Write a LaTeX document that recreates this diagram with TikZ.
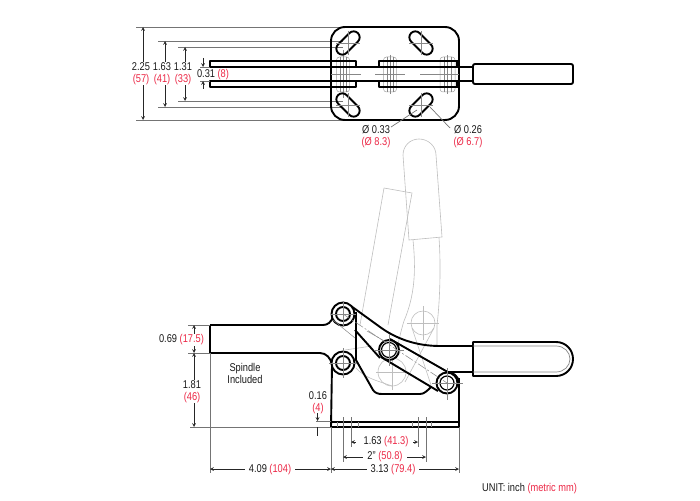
\documentclass[tikz,border=0pt]{standalone}
\usepackage{fontspec}
\setmainfont[FakeStretch=0.82]{Liberation Sans}
\usetikzlibrary{positioning}
\definecolor{clampred}{RGB}{236,40,70}
\definecolor{ghostgray}{RGB}{190,190,190}
\definecolor{dimgray}{RGB}{70,70,70}
\newcommand{\metric}[1]{\textcolor{clampred}{#1}}
\tikzset{
    bold/.style={line width=1.9pt, black, line join=round},
    thin line/.style={line width=0.5pt, dimgray!65},
    ghost/.style={line width=0.6pt, ghostgray},
    extline/.style={line width=0.7pt, dimgray!75},
    dimline/.style={line width=0.7pt, black!85, >=stealth},
    dimtext/.style={font=\fontsize{11.3}{11.5}\selectfont, align=center, fill=white, inner sep=1pt, text=black!90},
    slot/.style={draw=black, line width=1.9pt, rounded corners=6pt, minimum width=28pt, minimum height=12pt, inner sep=0pt},
    stud/.style={draw=dimgray!50, line width=0.5pt, rounded corners=3pt, minimum width=13pt, minimum height=35pt, inner sep=0pt},
    pin/.style={circle, draw=black, line width=1.9pt, fill=white, inner sep=0pt},
    ghostpin/.style={circle, draw=ghostgray, line width=0.6pt, inner sep=0pt}
}
\begin{document}
\begin{tikzpicture}[x=1pt, y=-1pt]
        \useasboundingbox (0, 0) rectangle (700, 500);

        \node[stud] (studL) at (343, 74.5) {};
        \node[stud] (studM) at (390, 74.5) {};
        \node[stud, minimum width=15pt] (studR) at (447.5, 74.5) {};

        \draw[extline] (136, 27) -- (345, 27);
        \draw[extline] (136, 120) -- (345, 120);
        \draw[extline] (158, 41) -- (343, 41);
        \draw[extline] (158, 107) -- (343, 107);
        \draw[extline] (178, 47) -- (343, 47);
        \draw[extline] (178, 101) -- (343, 101);

        \draw[bold, rounded corners=14pt] (331, 27) rectangle (459, 120);

        \draw[thin line] (343, 50) -- (343, 98);
        \draw[thin line] (340, 57) -- (340, 92);
        \draw[thin line] (346, 57) -- (346, 92);
        \draw[thin line] (390, 55) -- (390, 94);
        \draw[thin line] (387, 57) -- (387, 92);
        \draw[thin line] (393, 57) -- (393, 92);
        \draw[thin line] (447, 55) -- (447, 94);
        \draw[thin line] (444, 57) -- (444, 92);
        \draw[thin line] (451, 57) -- (451, 92);
        \draw[thin line] (331, 74) -- (361, 74);
        \draw[thin line] (375, 74) -- (405, 74);
        \draw[thin line] (420, 74) -- (459, 74);

        \node[slot, rotate=45] (slotTL) at (348, 43) {};
        \node[slot, rotate=-45] (slotTR) at (421, 43) {};
        \node[slot, rotate=-45] (slotBL) at (348, 105) {};
        \node[slot, rotate=45] (slotBR) at (421, 105) {};

        \draw[thin line] (336, 43) -- (360, 43);
        \draw[thin line] (348, 31) -- (348, 55);
        \draw[thin line] (409, 43) -- (433, 43);
        \draw[thin line] (421, 31) -- (421, 55);
        \draw[thin line] (336, 105) -- (360, 105);
        \draw[thin line] (348, 93) -- (348, 117);
        \draw[thin line] (409, 105) -- (433, 105);
        \draw[thin line] (421, 93) -- (421, 117);

        \draw[bold] (210, 61) rectangle (356, 67);
        \draw[bold] (210, 81) rectangle (356, 87);
        \draw[bold] (458, 67) -- (379, 67) -- (379, 61) -- (458, 61);
        \draw[bold] (458, 81) -- (379, 81) -- (379, 87) -- (458, 87);
        \draw[bold] (356, 67) -- (379, 67);
        \draw[bold] (356, 81) -- (379, 81);
        \draw[bold, line width=2.8pt] (457.5, 61) -- (457.5, 67);
        \draw[bold, line width=2.8pt] (457.5, 81) -- (457.5, 87);
        \draw[bold] (459, 67) -- (473, 67);
        \draw[bold] (459, 81) -- (473, 81);
        \draw[bold, rounded corners=2pt] (473, 64) rectangle (573, 84);

        \draw[extline] (200, 67) -- (210, 67);
        \draw[extline] (200, 81) -- (210, 81);

        \draw[dimline, <->] (143, 27) -- (143, 120);
        \draw[dimline, <->] (165, 41) -- (165, 107);
        \draw[dimline, <->] (185, 47) -- (185, 101);
        \draw[dimline, ->] (203, 58) -- (203, 67);
        \draw[dimline, ->] (203, 89) -- (203, 81);

        \node[dimtext] (lblWidth) at (141, 73.5) {2.25\\\metric{(57)}};
        \node[dimtext] (lblSlotOut) at (162, 73.5) {1.63\\\metric{(41)}};
        \node[dimtext] (lblSlotIn) at (183, 73.5) {1.31\\\metric{(33)}};
        \node[dimtext, fill=none] (lblGap) at (213, 74.5) {0.31 \metric{(8)}};

        \node[dimtext] (lblDiaA) at (376, 136.5) {Ø 0.33\\\metric{(Ø 8.3)}};
        \node[dimtext] (lblDiaB) at (468, 136.5) {Ø 0.26\\\metric{(Ø 6.7)}};
        \coordinate (leadA) at (391, 127);
        \coordinate (leadB) at (450, 128);
        \coordinate (holeA) at (417, 110);
        \coordinate (holeB) at (430, 107);
        \draw[extline] (leadA) -- (holeA);
        \draw[extline] (leadB) -- (holeB);

        \draw[ghost] (403, 155) .. controls (403, 146) and (410, 139) .. (419, 139) .. controls (428, 139) and (436, 146) .. (436, 155) -- (442, 237) -- (409, 240) -- cycle;
        \draw[ghost] (384, 188) -- (412, 193) -- (388, 325);
        \draw[ghost] (384, 188) -- (360, 325);
        \draw[ghost] (413, 240) .. controls (416, 270) and (415, 295) .. (404, 321) .. controls (401, 330) and (398, 345) .. (396, 352);
        \draw[ghost] (439, 238) .. controls (441, 265) and (440, 300) .. (437, 325) -- (437, 345);

        \node[ghostpin, minimum size=24pt] (ghostA) at (423, 323) {};
        \node[ghostpin, minimum size=28pt] (ghostB) at (392, 372) {};
        \draw[ghost] (423, 306) -- (423, 340);
        \draw[ghost] (407, 323) -- (439, 323);
        \draw[ghost] (392, 355) -- (392, 390);
        \draw[ghost] (376, 372) -- (408, 372);
        \draw[ghost] (412, 328) -- (431, 385);
        \draw[ghost] (434, 328) -- (405, 382);
        \draw[ghost] (356, 368) .. controls (365, 378) and (375, 380) .. (392, 386);
        \draw[ghost] (345, 350) -- (372, 346);

        \draw[bold, fill=white] (473, 342) -- (556, 342) .. controls (566, 342) and (573, 350) .. (573, 359) .. controls (573, 368) and (566, 376) .. (556, 376) -- (473, 376) -- cycle;
        \draw[thin line, line width=0.7pt] (473, 346) -- (556, 346) .. controls (564, 346) and (570, 352) .. (570, 359) .. controls (570, 366) and (564, 372) .. (556, 372) -- (473, 372);

        \draw[bold] (210, 325) -- (323, 325) .. controls (328, 325) and (331, 322) .. (333, 317);
        \draw[bold] (210, 325) -- (210, 353) -- (320, 353) .. controls (326, 353) and (331, 358) .. (332, 365) -- (331, 427) -- (459, 427) -- (459, 378);
        \draw[bold] (331, 422) -- (459, 422);
        \draw[bold] (356, 312) -- (356, 360) -- (373, 390) .. controls (375, 393) and (378, 394) .. (382, 394) -- (420, 394) .. controls (424, 394) and (427, 391) .. (431, 387);
        \draw[bold] (351, 306) -- (380, 327) .. controls (395, 338) and (415, 346) .. (440, 346) -- (473, 346);
        \draw[bold] (447, 372) -- (473, 372);
        \draw[bold] (447, 372) .. controls (453, 372) and (458, 376) .. (459, 382);
        \draw[bold] (355, 330) -- (380, 358);
        \draw[bold] (390, 339) -- (453, 375);
        \draw[bold] (381, 357) -- (438, 391);

        \node[pin, minimum size=23pt] (pivotTopOut) at (343, 314) {};
        \node[pin, minimum size=23pt] (pivotLowOut) at (343, 363) {};
        \node[pin, minimum size=20pt] (pivotMidOut) at (389, 350) {};
        \node[pin, minimum size=21pt] (pivotEndOut) at (447, 383) {};
        \node[pin, minimum size=14pt] (pivotTop) at (343, 314) {};
        \node[pin, minimum size=14pt] (pivotLow) at (343, 363) {};
        \node[pin, line width=1.2pt, minimum size=15pt] (pivotMid) at (389, 350) {};
        \node[pin, line width=1.2pt, minimum size=14pt] (pivotEnd) at (447, 383) {};

        \draw[thin line, dash pattern=on 9pt off 2pt on 2pt off 2pt] (pivotTop.center) -- (pivotEnd.center);
        \draw[thin line] (333, 320) -- (355, 338);
        \draw[thin line] (367, 331) -- (386, 342);
        \draw[thin line] (343, 301) -- (343, 327);
        \draw[thin line] (331, 314) -- (356, 314);
        \draw[thin line] (343, 348) -- (343, 378);
        \draw[thin line] (329, 363) -- (357, 363);
        \draw[thin line] (389, 334) -- (389, 366);
        \draw[thin line] (374, 350) -- (404, 350);
        \draw[thin line] (447, 368) -- (447, 400);
        \draw[thin line] (432, 383) -- (463, 383);

        \draw[thin line] (337, 422) -- (337, 427);
        \draw[thin line] (358, 422) -- (358, 427);
        \draw[thin line] (412, 422) -- (412, 427);
        \draw[thin line] (431, 422) -- (431, 427);
        \draw[extline] (343, 417) -- (343, 462);
        \draw[extline] (351, 417) -- (351, 447);
        \draw[extline] (418, 417) -- (418, 447);
        \draw[extline] (426, 417) -- (426, 462);

        \draw[extline] (188, 325) -- (210, 325);
        \draw[extline] (188, 353) -- (210, 353);
        \draw[extline] (190, 427) -- (331, 427);
        \draw[extline] (316, 421) -- (331, 421);
        \draw[extline] (210, 353) -- (210, 473);
        \draw[extline] (331, 427) -- (331, 473);
        \draw[extline] (459, 427) -- (459, 473);

        \draw[dimline, <->] (194, 325) -- (194, 353);
        \draw[dimline, <->] (194, 353) -- (194, 427);
        \draw[dimline, ->] (317.5, 413) -- (317.5, 421);
        \draw[dimline] (317.5, 427) -- (317.5, 436);
        \draw[dimline, <->] (210, 469) -- (331, 469);
        \draw[dimline, <->] (331, 469) -- (459, 469);
        \draw[dimline, <->] (343, 457) -- (426, 457);
        \draw[dimline, <-] (351, 442) -- (356, 442);
        \draw[dimline, <-] (418, 442) -- (413, 442);

        \node[dimtext] (lblBar) at (181.5, 340) {0.69 \metric{(17.5)}};
        \node[dimtext] (lblHeight) at (192, 391.5) {1.81\\\metric{(46)}};
        \node[dimtext, fill=none] (lblSpindle) at (245, 373.5) {Spindle\\Included};
        \node[dimtext, fill=none] (lblBase) at (318, 402.5) {0.16\\\metric{(4)}};
        \node[dimtext, inner xsep=4pt] (lblReach) at (270, 470) {4.09 \metric{(104)}};
        \node[dimtext, inner xsep=4pt] (lblLength) at (393, 469.5) {3.13 \metric{(79.4)}};
        \node[dimtext, inner xsep=4pt] (lblHoleB) at (385, 456.5) {2” \metric{(50.8)}};
        \node[dimtext] (lblHoleA) at (386, 442) {1.63 \metric{(41.3)}};
        \node[dimtext, anchor=west, fill=none] (lblUnit) at (481, 489) {UNIT: inch \metric{(metric mm)}};
\end{tikzpicture}
\end{document}
